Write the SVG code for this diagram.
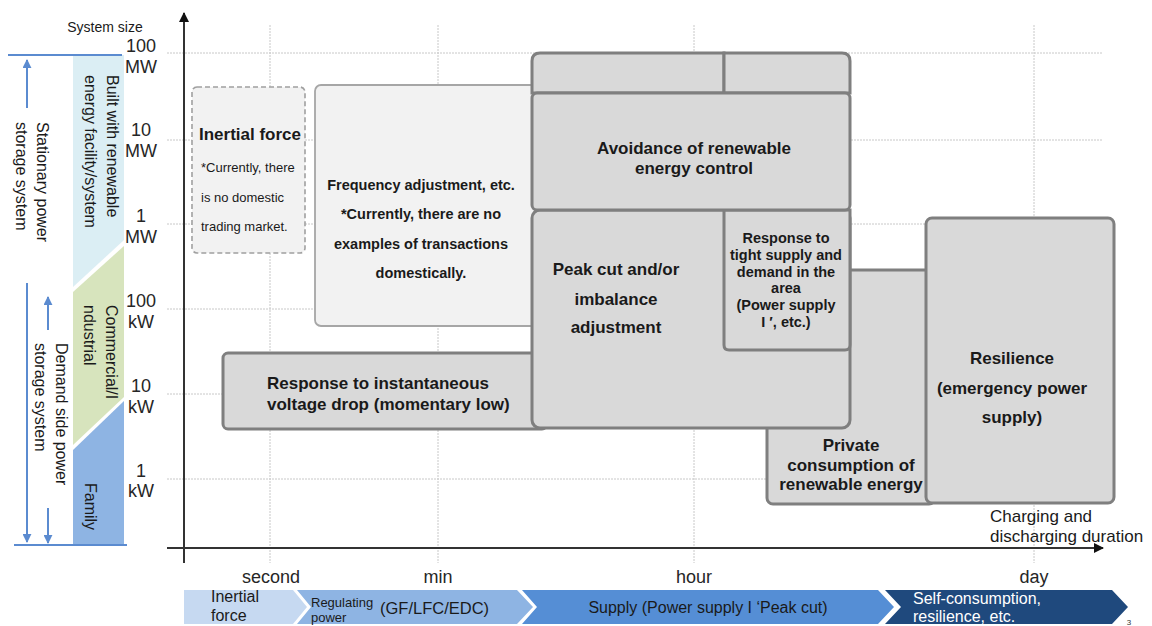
<svg xmlns="http://www.w3.org/2000/svg" width="1152" height="626" viewBox="0 0 1152 626">
  <style>
    text { font-family: "Liberation Sans", Arial, sans-serif; fill: #1a1a1a; }
    .grid { stroke: #c8c8c8; stroke-width: 1; stroke-dasharray: 2 1; fill: none; }
    .axis { stroke: #333; stroke-width: 2; fill: none; }
    .blue { stroke: #5b8bd0; stroke-width: 2; fill: none; }
    .box { fill: #d9d9d9; stroke: #7f7f7f; stroke-width: 3; }
    .light { fill: #f2f2f2; stroke: #a6a6a6; stroke-width: 1.8; }
    .dash { fill: #f2f2f2; stroke: #a0a0a0; stroke-width: 1.6; stroke-dasharray: 5 3; }
    .b17 { font-size: 17px; font-weight: bold; }
    .b14 { font-size: 14.5px; font-weight: bold; }
    .tick { font-size: 18px; text-anchor: middle; fill: #262626; }
    .side { font-size: 16px; }
    .mid { text-anchor: middle; }
  </style>
  <defs>
    <marker id="arrowBlack" viewBox="0 0 10 10" refX="9" refY="5" markerWidth="5" markerHeight="5" orient="auto" markerUnits="strokeWidth">
      <path d="M0,0 L10,5 L0,10 z" fill="#111"/>
    </marker>
    <marker id="arrowBlue" viewBox="0 0 10 10" refX="9" refY="5" markerWidth="4.5" markerHeight="4.5" orient="auto" markerUnits="strokeWidth">
      <path d="M0,0 L10,5 L0,10 z" fill="#5b8bd0"/>
    </marker>
  </defs>

  <rect width="1152" height="626" fill="#ffffff"/>

  <!-- grid -->
  <g id="grid">
    <line class="grid" x1="167" y1="53" x2="1102" y2="53"/>
    <line class="grid" x1="167" y1="140" x2="1102" y2="140"/>
    <line class="grid" x1="167" y1="224" x2="1102" y2="224"/>
    <line class="grid" x1="167" y1="309" x2="1102" y2="309"/>
    <line class="grid" x1="167" y1="394" x2="1102" y2="394"/>
    <line class="grid" x1="167" y1="479" x2="1102" y2="479"/>
    <line class="grid" x1="270" y1="25" x2="270" y2="563"/>
    <line class="grid" x1="438" y1="25" x2="438" y2="563"/>
    <line class="grid" x1="694" y1="25" x2="694" y2="563"/>
    <line class="grid" x1="1034" y1="25" x2="1034" y2="563"/>
  </g>

  <!-- size scale column -->
  <g id="scale-column">
    <polygon points="73,55 124,55 124,240 73,287" fill="#dbeef4"/>
    <polygon points="124,246 124,397 73,445 73,292" fill="#d7e4bd"/>
    <polygon points="124,401 124,545 73,545 73,450" fill="#8eb4e3"/>
    <line class="blue" x1="8" y1="55" x2="122" y2="55"/>
    <line class="blue" x1="14" y1="545" x2="127" y2="545"/>
    <g class="side">
      <text transform="translate(107,75) rotate(90)">Built with renewable</text>
      <text transform="translate(85,75) rotate(90)">energy facility/system</text>
      <text transform="translate(106,305) rotate(90)">Commercial/I</text>
      <text transform="translate(84,305) rotate(90)">ndustrial</text>
      <text transform="translate(85,483) rotate(90)">Family</text>
    </g>
  </g>

  <!-- system classes -->
  <g id="stationary-system">
    <line class="blue" x1="27" y1="108" x2="27" y2="60" marker-end="url(#arrowBlue)"/>
    <line class="blue" x1="27" y1="283" x2="27" y2="542" marker-end="url(#arrowBlue)"/>
    <text class="side" transform="translate(37,122) rotate(90)">Stationary power</text>
    <text class="side" transform="translate(16,122) rotate(90)">storage system</text>
  </g>
  <g id="demand-side-system">
    <line class="blue" x1="48" y1="330" x2="48" y2="297" marker-end="url(#arrowBlue)"/>
    <line class="blue" x1="48" y1="508" x2="48" y2="543" marker-end="url(#arrowBlue)"/>
    <text class="side" transform="translate(56,343) rotate(90)">Demand side power</text>
    <text class="side" transform="translate(35,343) rotate(90)">storage system</text>
  </g>

  <!-- axes -->
  <g id="axes">
    <line class="axis" x1="184" y1="563" x2="184" y2="13" marker-end="url(#arrowBlack)"/>
    <line class="axis" x1="167" y1="548" x2="1103" y2="548" marker-end="url(#arrowBlack)"/>
    <text x="105" y="32" font-size="14" text-anchor="middle">System size</text>
    <text class="tick" x="141" y="52">100</text>
    <text class="tick" x="141" y="73">MW</text>
    <text class="tick" x="141" y="136">10</text>
    <text class="tick" x="141" y="157">MW</text>
    <text class="tick" x="141" y="222">1</text>
    <text class="tick" x="141" y="243">MW</text>
    <text class="tick" x="141" y="307">100</text>
    <text class="tick" x="141" y="328">kW</text>
    <text class="tick" x="141" y="392">10</text>
    <text class="tick" x="141" y="413">kW</text>
    <text class="tick" x="141" y="477">1</text>
    <text class="tick" x="141" y="497">kW</text>
    <text class="tick" x="271" y="583">second</text>
    <text class="tick" x="438" y="583">min</text>
    <text class="tick" x="694" y="583">hour</text>
    <text class="tick" x="1034" y="583">day</text>
    <text x="990" y="522" font-size="17">Charging and</text>
    <text x="990" y="542" font-size="17">discharging duration</text>
  </g>

  <!-- use cases -->
  <g id="inertial-force">
    <rect class="dash" x="192" y="87" width="113" height="166" rx="5"/>
    <text class="b17" x="250" y="140" text-anchor="middle">Inertial force</text>
    <text x="201" y="172" font-size="13">*Currently, there</text>
    <text x="201" y="202" font-size="13">is no domestic</text>
    <text x="201" y="231" font-size="13">trading market.</text>
  </g>

  <g id="frequency-adjustment">
    <rect class="light" x="315" y="85" width="232" height="241" rx="6"/>
    <g class="b14 mid">
      <text x="421" y="190">Frequency adjustment, etc.</text>
      <text x="421" y="219">*Currently, there are no</text>
      <text x="421" y="249">examples of transactions</text>
      <text x="421" y="278">domestically.</text>
    </g>
  </g>

  <g id="voltage-drop">
    <rect class="box" x="223" y="353" width="324" height="76" rx="5"/>
    <text class="b17" x="267" y="389">Response to instantaneous</text>
    <text class="b17" x="267" y="410">voltage drop (momentary low)</text>
  </g>

  <g id="private-consumption">
    <rect class="box" x="767" y="270" width="168" height="234" rx="6"/>
    <g class="b17 mid">
      <text x="851" y="451">Private</text>
      <text x="851" y="471">consumption of</text>
      <text x="851" y="490">renewable energy</text>
    </g>
  </g>

  <g id="peak-cut">
    <rect class="box" x="532" y="210" width="318" height="218" rx="8"/>
    <g class="b17 mid">
      <text x="616" y="275">Peak cut and/or</text>
      <text x="616" y="305">imbalance</text>
      <text x="616" y="333">adjustment</text>
    </g>
  </g>

  <g id="tight-supply">
    <path class="box" d="M724,210 H850 V345 Q850,350 845,350 H729 Q724,350 724,345 Z"/>
    <g class="b14 mid">
      <text x="786" y="243">Response to</text>
      <text x="786" y="260">tight supply and</text>
      <text x="786" y="277">demand in the</text>
      <text x="786" y="293">area</text>
      <text x="786" y="310">(Power supply</text>
      <text x="786" y="327">I ′, etc.)</text>
    </g>
  </g>

  <!-- upper band, outer corners rounded -->
  <g id="top-band-left">
    <path class="box" d="M532,93 V61 Q532,53 540,53 H724 V93 Z"/>
  </g>
  <g id="top-band-right">
    <path class="box" d="M724,93 V53 H842 Q850,53 850,61 V93 Z"/>
  </g>

  <g id="renewable-control">
    <rect class="box" x="532" y="93" width="318" height="117" rx="5"/>
    <text class="b17 mid" x="694" y="154">Avoidance of renewable</text>
    <text class="b17 mid" x="694" y="174">energy control</text>
  </g>

  <g id="resilience">
    <rect class="box" x="926" y="218" width="188" height="285" rx="6"/>
    <g class="b17 mid">
      <text x="1012" y="364">Resilience</text>
      <text x="1012" y="394">(emergency power</text>
      <text x="1012" y="423">supply)</text>
    </g>
  </g>

  <!-- service categories -->
  <g id="cat-inertial">
    <polygon points="184,590 293,590 307,607 293,624 184,624" fill="#c6d9f1"/>
    <text x="211" y="602" font-size="16">Inertial</text>
    <text x="211" y="621" font-size="16">force</text>
  </g>
  <g id="cat-regulating">
    <polygon points="297,590 517,590 533,607 517,624 297,624 311,607" fill="#8eb4e3"/>
    <text x="311" y="607" font-size="13">Regulating</text>
    <text x="311" y="622" font-size="13">power</text>
    <text x="380" y="614" font-size="16.5">(GF/LFC/EDC)</text>
  </g>
  <g id="cat-supply">
    <polygon points="522,590 878,590 894,607 878,624 522,624 537,607" fill="#558ed5"/>
    <text x="708" y="613" font-size="16" text-anchor="middle">Supply (Power supply I ‘Peak cut)</text>
  </g>
  <g id="cat-self">
    <polygon points="885,590 1112,590 1128,607 1112,624 885,624 901,607" fill="#1f497d"/>
    <text x="913" y="604" font-size="16" style="fill:#ffffff">Self-consumption,</text>
    <text x="913" y="622" font-size="16" style="fill:#ffffff">resilience, etc.</text>
  </g>

  <text x="1129" y="625" font-size="8" text-anchor="middle" style="fill:#333">3</text>
</svg>
